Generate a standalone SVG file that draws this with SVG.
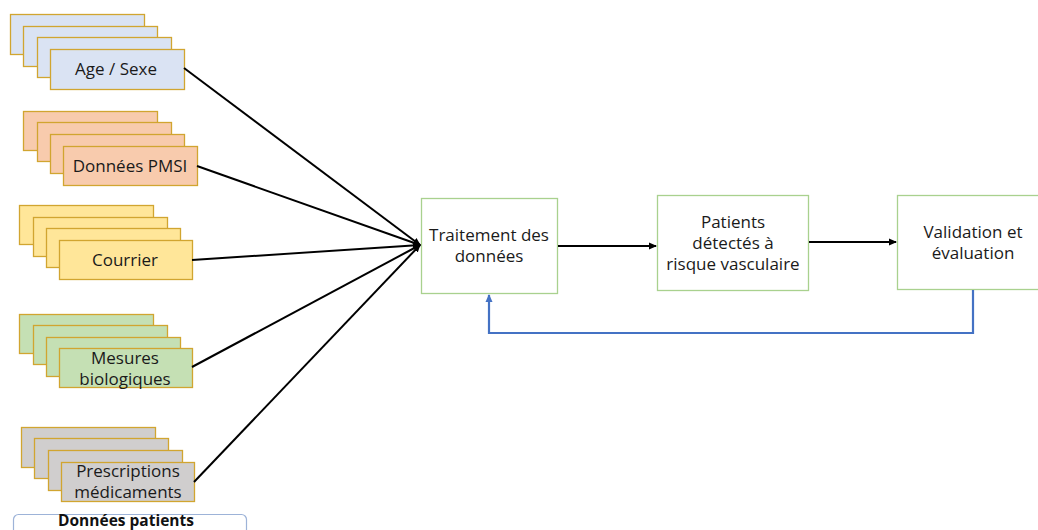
<svg xmlns="http://www.w3.org/2000/svg" width="1038" height="530" viewBox="0 0 1038 530">
<style>
.t{font-family:"Open Sans","Liberation Sans",sans-serif;font-size:17px;fill:#1a1a1a;text-anchor:middle}
.s{stroke:#D1A530;stroke-width:1.3}
.blue{fill:#DAE3F3}.orange{fill:#F8CBAD}.yellow{fill:#FFE699}.green{fill:#C5E0B4}.gray{fill:#D0CECE}
.box{fill:#fff;stroke:#A9D18E;stroke-width:1.3}
.ln{stroke:#000;stroke-width:2;fill:none}
</style>
<defs>
<marker id="ah" markerWidth="8" markerHeight="8" refX="7" refY="4" orient="auto" markerUnits="userSpaceOnUse"><path d="M0,0.5 L8,4 L0,7.5 Z" fill="#000"/></marker>
<marker id="ahb" markerWidth="8" markerHeight="8" refX="7" refY="4" orient="auto" markerUnits="userSpaceOnUse"><path d="M0,0.5 L8,4 L0,7.5 Z" fill="#4472C4"/></marker>
</defs>
<rect x="0" y="0" width="1038" height="530" fill="#fff"/>
<g id="age">
<rect class="s blue" x="10.5" y="14.5" width="134" height="40"/>
<rect class="s blue" x="23.5" y="26.5" width="134" height="40"/>
<rect class="s blue" x="37.5" y="37.5" width="134" height="40"/>
<rect class="s blue" x="50.5" y="49.5" width="134" height="40"/>
<text class="t" x="116" y="75">Age / Sexe</text>
</g>
<g id="pmsi">
<rect class="s orange" x="23.5" y="111.5" width="134" height="39"/>
<rect class="s orange" x="37.5" y="122.5" width="134" height="39"/>
<rect class="s orange" x="50.5" y="134.5" width="134" height="39"/>
<rect class="s orange" x="63.5" y="146.5" width="134" height="39"/>
<text class="t" x="130" y="172">Données PMSI</text>
</g>
<g id="courrier">
<rect class="s yellow" x="19.5" y="205.5" width="134" height="39"/>
<rect class="s yellow" x="33.5" y="217.5" width="134" height="39"/>
<rect class="s yellow" x="46.5" y="228.5" width="134" height="39"/>
<rect class="s yellow" x="59.5" y="240.5" width="133" height="39"/>
<text class="t" x="125" y="266">Courrier</text>
</g>
<g id="mesures">
<rect class="s green" x="19.5" y="314.5" width="134" height="39"/>
<rect class="s green" x="33.5" y="325.5" width="134" height="39"/>
<rect class="s green" x="46.5" y="337.5" width="134" height="39"/>
<rect class="s green" x="59.5" y="348.5" width="133" height="39"/>
<text class="t" x="125" y="364">Mesures</text>
<text class="t" x="125" y="385">biologiques</text>
</g>
<g id="prescriptions">
<rect class="s gray" x="21.5" y="427.5" width="134" height="40"/>
<rect class="s gray" x="34.5" y="438.5" width="134" height="40"/>
<rect class="s gray" x="48.5" y="450.5" width="134" height="40"/>
<rect class="s gray" x="61.5" y="462.5" width="133" height="39"/>
<text class="t" x="128" y="477">Prescriptions</text>
<text class="t" x="128" y="498">médicaments</text>
</g>
<g id="donnees-patients">
<rect x="13.5" y="514.5" width="233" height="40" rx="5" fill="#fff" stroke="#9DB3D8" stroke-width="1.2"/>
<text class="t" x="126" y="526" style="font-weight:bold;font-size:15.5px;fill:#111">Données patients</text>
</g>
<g id="traitement">
<rect class="box" x="421.5" y="198.5" width="136" height="95"/>
<text class="t" x="489" y="241">Traitement des</text>
<text class="t" x="489" y="262">données</text>
</g>
<g id="patients">
<rect class="box" x="657.5" y="195.5" width="151" height="95"/>
<text class="t" x="733" y="228">Patients</text>
<text class="t" x="733" y="249">détectés à</text>
<text class="t" x="733" y="270">risque vasculaire</text>
</g>
<g id="validation">
<rect class="box" x="897.5" y="195.5" width="145" height="94"/>
<text class="t" x="973" y="238">Validation et</text>
<text class="t" x="973" y="259">évaluation</text>
</g>
<g id="connectors">
<line class="ln" x1="184" y1="68" x2="420" y2="245" marker-end="url(#ah)"/>
<line class="ln" x1="197" y1="166" x2="420" y2="245" marker-end="url(#ah)"/>
<line class="ln" x1="192" y1="260" x2="420" y2="245" marker-end="url(#ah)"/>
<line class="ln" x1="192" y1="367" x2="420" y2="245" marker-end="url(#ah)"/>
<line class="ln" x1="194" y1="482" x2="420" y2="245" marker-end="url(#ah)"/>
<line class="ln" x1="558" y1="246" x2="656" y2="246" marker-end="url(#ah)"/>
<line class="ln" x1="809" y1="242" x2="896" y2="242" marker-end="url(#ah)"/>
<polyline points="973,290 973,333 489,333 489,295" fill="none" stroke="#4472C4" stroke-width="2.2" marker-end="url(#ahb)"/>
</g>
</svg>
